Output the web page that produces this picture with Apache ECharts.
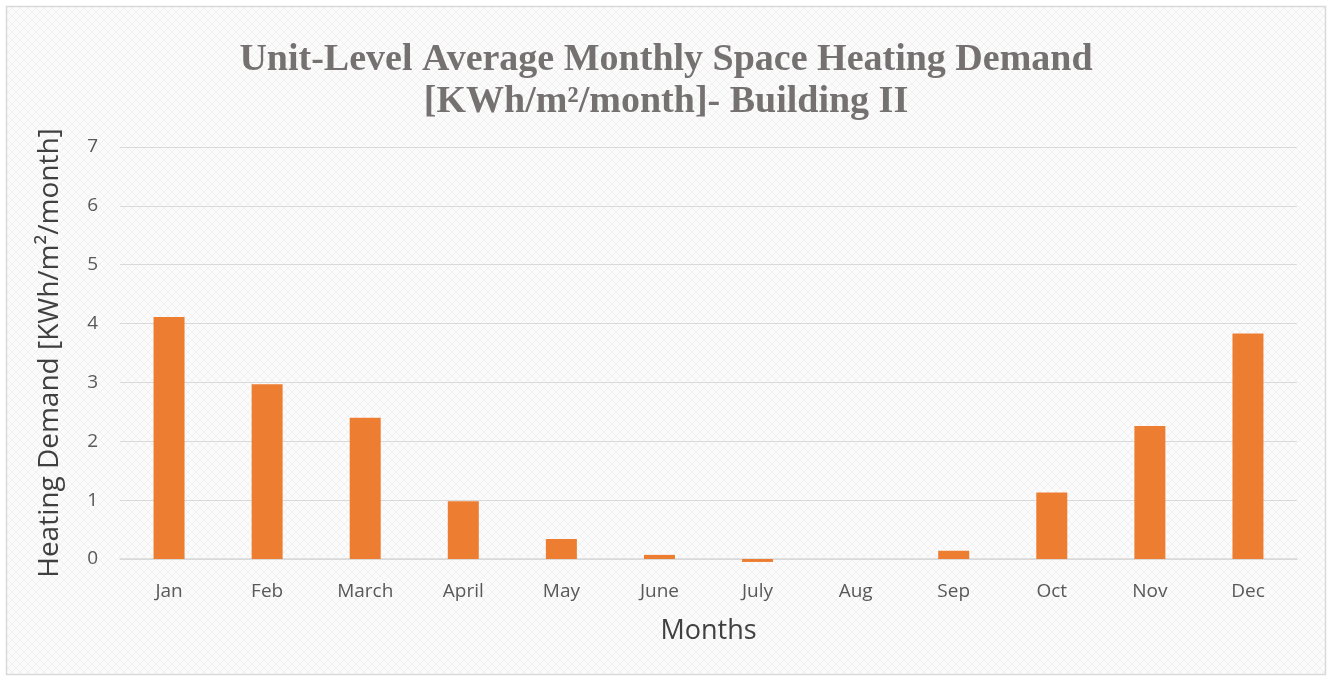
<!DOCTYPE html>
<html>
<head>
<meta charset="utf-8">
<script src="https://cdn.jsdelivr.net/npm/echarts@6/dist/echarts.min.js"></script>
<style>
html, body { margin: 0; padding: 0; background: #fff; }
#chart { width: 1332px; height: 681px; }
</style>
</head>
<body>
<div id="chart"></div>
<script>
const months = ['Jan', 'Feb', 'March', 'April', 'May', 'June', 'July', 'Aug', 'Sep', 'Oct', 'Nov', 'Dec']
const heatingDemand = [4.11, 2.97, 2.40, 0.98, 0.34, 0.07, -0.05, 0, 0.14, 1.13, 2.26, 3.83]
const yTicks = [0, 7, 1]

// light diamond pattern for the chart body
const pat = document.createElement('canvas')
pat.width = 8
pat.height = 8
const pc = pat.getContext('2d')
pc.fillStyle = '#fbfbfb'
pc.fillRect(0, 0, 8, 8)
pc.strokeStyle = '#f0f0f0'
pc.lineWidth = 1
pc.beginPath()
pc.moveTo(0, 4); pc.lineTo(4, 0); pc.lineTo(8, 4); pc.lineTo(4, 8); pc.closePath()
pc.stroke()

const chart = echarts.init(document.getElementById('chart'))
chart.setOption({
  animation: false,
  graphic: [{
    type: 'rect',
    z: -10,
    shape: { x: 6.5, y: 6.5, width: 1319, height: 668 },
    style: { fill: { image: pat, repeat: 'repeat' }, stroke: '#d9d9d9', lineWidth: 1.5 }
  }],
  title: {
    text: 'Unit-Level Average Monthly Space Heating Demand\n[KWh/m²/month]- Building II',
    left: 'center',
    top: 34,
    textStyle: {
      fontFamily: 'Liberation Serif',
      fontWeight: 'bold',
      fontSize: 38,
      lineHeight: 42,
      color: '#757171'
    }
  },
  grid: { left: 120, right: 35, top: 147, bottom: 122, containLabel: false },
  xAxis: {
    type: 'category',
    data: months,
    name: 'Months',
    nameLocation: 'middle',
    nameGap: 59,
    nameTextStyle: { fontFamily: 'Open Sans', fontSize: 27, color: '#404040' },
    axisTick: { show: false },
    axisLine: { onZero: true, lineStyle: { color: '#d9d9d9', width: 1.5 } },
    axisLabel: { fontFamily: 'Open Sans', fontSize: 19, color: '#595959', margin: 23 }
  },
  yAxis: {
    type: 'value',
    min: yTicks[0],
    max: yTicks[1],
    interval: yTicks[2],
    name: 'Heating Demand [KWh/m²/month]',
    nameLocation: 'middle',
    nameGap: 56,
    nameTextStyle: { fontFamily: 'Open Sans', fontSize: 28, color: '#404040' },
    axisLine: { show: false },
    axisTick: { show: false },
    axisLabel: { fontFamily: 'Open Sans', fontSize: 19, color: '#595959', margin: 22 },
    splitLine: { lineStyle: { color: '#d9d9d9', width: 1.2 } }
  },
  series: [{
    type: 'bar',
    data: heatingDemand,
    barWidth: 31,
    clip: false,
    z: 5,
    itemStyle: { color: '#ed7d31' }
  }]
})
</script>
</body>
</html>
